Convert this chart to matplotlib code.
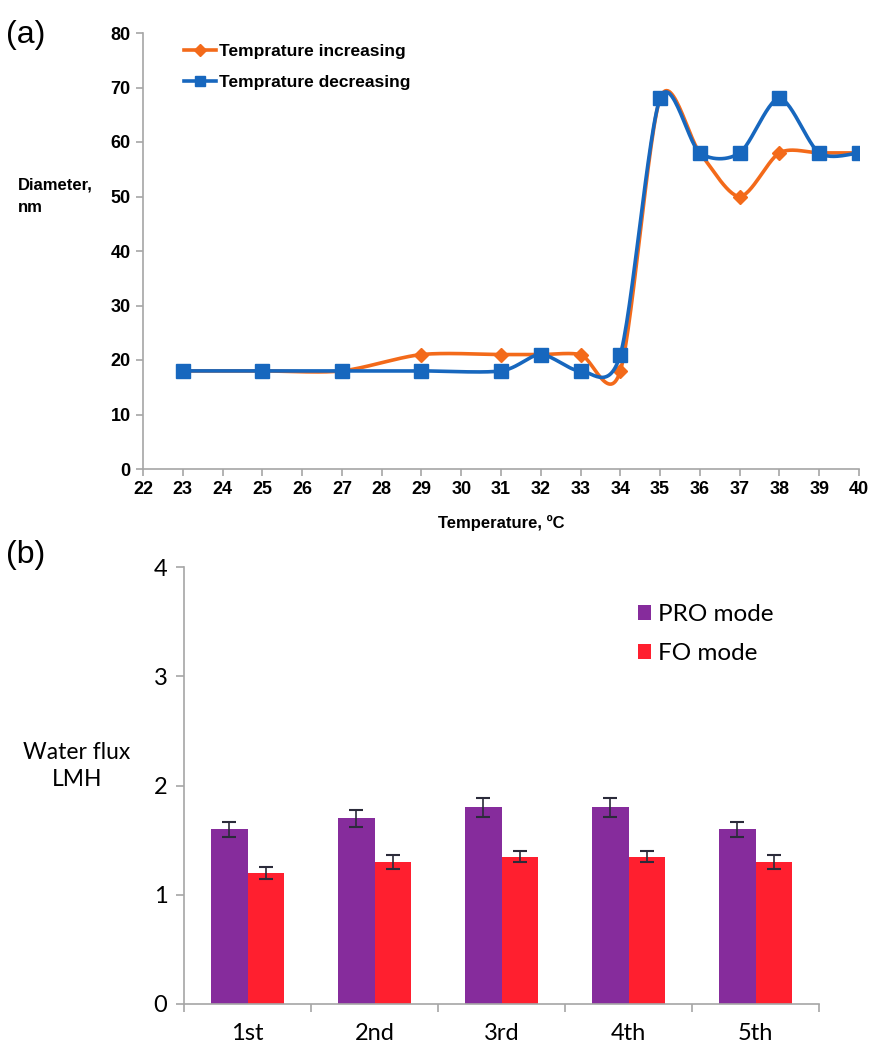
import numpy as np
import matplotlib
matplotlib.use("Agg")
import matplotlib.pyplot as plt
from matplotlib.lines import Line2D

# ---------------- data ----------------
temp_inc = [23, 25, 27, 29, 31, 32, 33, 34, 35, 36, 37, 38, 39, 40]
diam_inc = [18, 18, 18, 21, 21, 21, 21, 18, 68, 58, 50, 58, 58, 58]
temp_dec = [23, 25, 27, 29, 31, 32, 33, 34, 35, 36, 37, 38, 39, 40]
diam_dec = [18, 18, 18, 18, 18, 21, 18, 21, 68, 58, 58, 68, 58, 58]
x_ticks_a = list(range(22, 41))
y_ticks_a = [0, 10, 20, 30, 40, 50, 60, 70, 80]

runs = ["1st", "2nd", "3rd", "4th", "5th"]
pro_flux = [1.6, 1.7, 1.8, 1.8, 1.6]
pro_err = [0.07, 0.08, 0.09, 0.09, 0.07]
fo_flux = [1.2, 1.3, 1.35, 1.35, 1.3]
fo_err = [0.055, 0.065, 0.05, 0.05, 0.065]
y_ticks_b = [0, 1, 2, 3, 4]

ORANGE = "#F36A1A"
BLUE = "#1767BE"
PURPLE = "#862C9C"
RED = "#FF1F2F"
GRAY = "#A6A6A6"


def smooth(xs, ys, n=30, k=7.0):
    """Excel-like smoothed line (Bezier with Catmull-Rom style control points)."""
    P = np.column_stack([xs, ys]).astype(float)
    out = []
    m = len(P)
    for i in range(m - 1):
        p0 = P[i - 1] if i > 0 else P[i]
        p1 = P[i]
        p2 = P[i + 1]
        p3 = P[i + 2] if i + 2 < m else P[i + 1]
        c1 = p1 + (p2 - p0) / k
        c2 = p2 - (p3 - p1) / k
        t = np.linspace(0, 1, n)[:, None]
        seg = ((1 - t) ** 3) * p1 + 3 * ((1 - t) ** 2) * t * c1 + 3 * (1 - t) * t ** 2 * c2 + t ** 3 * p2
        out.append(seg if i == 0 else seg[1:])
    out = np.vstack(out)
    return out[:, 0], out[:, 1]


fig = plt.figure(figsize=(8.71, 10.43), dpi=100)

bold_font = ["Liberation Sans Narrow", "Liberation Sans", "DejaVu Sans"]

# ---------------- (a) ----------------
ax1 = fig.add_axes([143 / 871, 1 - 469 / 1043, (859 - 143) / 871, (469 - 33) / 1043])
sx, sy = smooth(temp_inc, diam_inc)
ax1.plot(sx, sy, color=ORANGE, lw=2.6, zorder=2)
ax1.plot(temp_inc, diam_inc, ls="none", marker="D", ms=7, color=ORANGE, zorder=3)
sx, sy = smooth(temp_dec, diam_dec)
ax1.plot(sx, sy, color=BLUE, lw=2.6, zorder=4)
ax1.plot(temp_dec, diam_dec, ls="none", marker="s", ms=10, color=BLUE, zorder=5)

ax1.set_xlim(22, 40)
ax1.set_ylim(0, 80)
ax1.set_xticks(x_ticks_a)
ax1.set_yticks(y_ticks_a)
for s in ["top", "right"]:
    ax1.spines[s].set_visible(False)
for s in ["left", "bottom"]:
    ax1.spines[s].set_color(GRAY)
    ax1.spines[s].set_linewidth(1.2)
ax1.tick_params(axis="both", color=GRAY, length=5, width=1.2, pad=4)
for lab in ax1.get_xticklabels() + ax1.get_yticklabels():
    lab.set_fontfamily(bold_font)
    lab.set_fontweight("bold")
    lab.set_fontsize(13)
ax1.set_xlabel("Temperature, ºC", fontfamily=bold_font, fontweight="bold", fontsize=12, labelpad=12)

handles_a = [
    Line2D([], [], color=ORANGE, lw=2.6, marker="D", ms=6),
    Line2D([], [], color=BLUE, lw=2.6, marker="s", ms=7),
]
ax1.legend(handles_a, ["Temprature increasing", "Temprature decreasing"],
           loc="upper left", bbox_to_anchor=(0.036, 1.01), frameon=False,
           handlelength=1.8, handletextpad=0.2, labelspacing=0.9,
           prop={"family": bold_font, "weight": "bold", "size": 12.5})

fig.text(18 / 871, 1 - 196 / 1043, "Diameter,\nnm", fontfamily=bold_font, fontweight="bold",
         fontsize=12, ha="left", va="center", linespacing=1.6)
fig.text(6 / 871, 1 - 35 / 1043, "(a)", fontfamily=["Liberation Sans", "DejaVu Sans"], fontsize=23,
         ha="left", va="center")

# ---------------- (b) ----------------
ax2 = fig.add_axes([184 / 871, 1 - 1004 / 1043, (819 - 184) / 871, (1004 - 567) / 1043])
x = np.arange(len(runs))
w = 0.289
err_kw = dict(ecolor="#2B2B3A", elinewidth=1.2, capsize=5, capthick=1.5)
ax2.bar(x - w / 2, pro_flux, w, yerr=pro_err, color=PURPLE, error_kw=err_kw, label="PRO mode")
ax2.bar(x + w / 2, fo_flux, w, yerr=fo_err, color=RED, error_kw=err_kw, label="FO mode")
ax2.set_xlim(-0.5, len(runs) - 0.5)
ax2.set_ylim(0, 4)
ax2.set_yticks(y_ticks_b)
ax2.set_xticks(x)
ax2.set_xticklabels(runs)
ax2.set_xticks(np.arange(-0.5, len(runs)), minor=True)
for s in ["top", "right"]:
    ax2.spines[s].set_visible(False)
for s in ["left", "bottom"]:
    ax2.spines[s].set_color(GRAY)
    ax2.spines[s].set_linewidth(1.2)
ax2.tick_params(axis="x", which="major", length=0, pad=14)
ax2.tick_params(axis="x", which="minor", length=6, color=GRAY, width=1.2)
ax2.tick_params(axis="y", length=6, color=GRAY, width=1.2, pad=6)
calib = ["Lato", "Open Sans", "DejaVu Sans"]
for lab in ax2.get_xticklabels() + ax2.get_yticklabels():
    lab.set_fontfamily(calib)
    lab.set_fontsize(17)

ax2.legend(loc="upper left", bbox_to_anchor=(0.68, 0.965), frameon=False,
           handlelength=0.55, handleheight=0.55, handletextpad=0.3, labelspacing=0.75,
           prop={"family": calib, "size": 17.5})

fig.text(77 / 871, 1 - 766 / 1043, "Water flux\nLMH", fontfamily=calib, fontsize=16.5,
         ha="center", va="center", linespacing=1.35)
fig.text(6 / 871, 1 - 555 / 1043, "(b)", fontfamily=["Liberation Sans", "DejaVu Sans"], fontsize=23,
         ha="left", va="center")

fig.savefig("out.png", dpi=100)
